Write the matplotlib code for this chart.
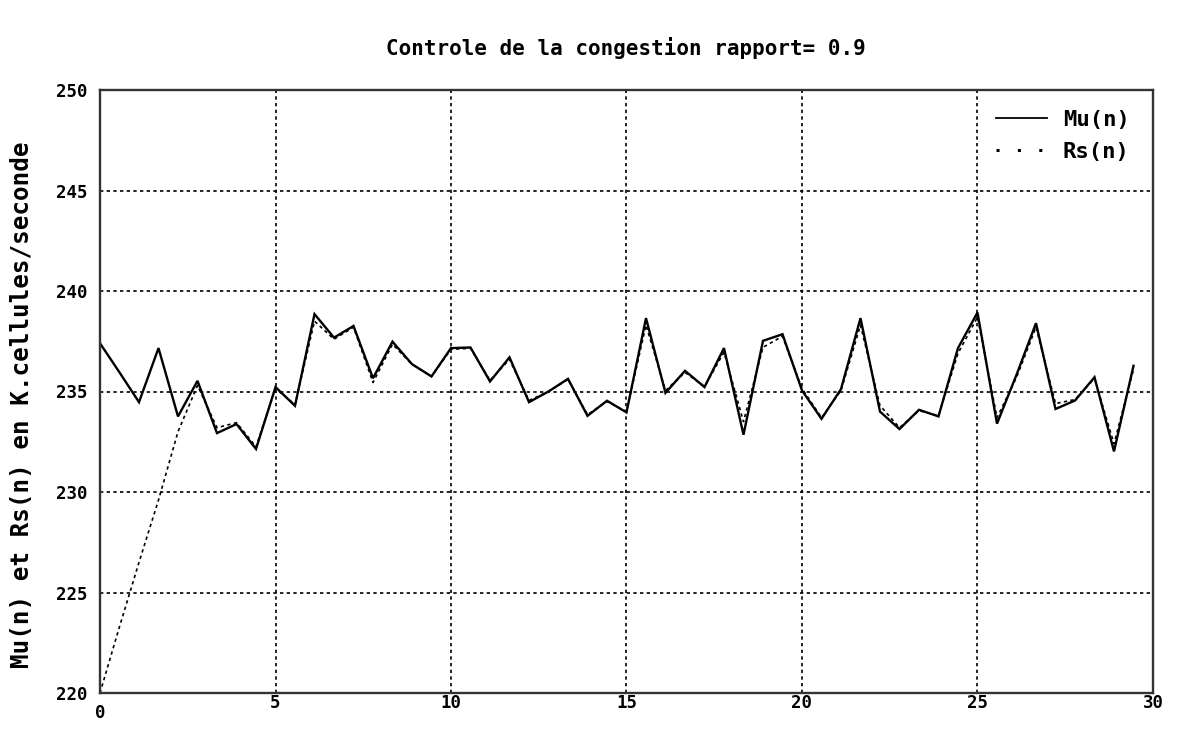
import numpy as np
import matplotlib
matplotlib.use("Agg")
import matplotlib.pyplot as plt
from matplotlib.lines import Line2D
import matplotlib.transforms as mtransforms

# Sampling step of the control loop (time units on the x axis)
step = 5 / 9

# Measured service rate Mu(n)
mu = [237.4, 235.95, 234.47, 237.16, 233.76, 235.53, 232.93, 233.38, 232.14, 235.22,
      234.29, 238.85, 237.68, 238.26, 235.66, 237.48, 236.36, 235.75, 237.16, 237.19,
      235.5, 236.7, 234.47, 235.0, 235.63, 233.79, 234.54, 233.96, 238.65, 234.93,
      236.03, 235.22, 237.16, 232.85, 237.52, 237.85, 235.05, 233.64, 235.12, 238.65,
      234.0, 233.13, 234.09, 233.76, 237.16, 238.93, 233.4, 235.83, 238.4, 234.13,
      234.55, 235.71, 232.02, 236.28]

# Controlled source rate Rs(n)
rs = [220.0, 223.3, 226.5, 229.6, 233.0, 235.3, 233.2, 233.45, 232.25, 235.15,
      234.35, 238.5, 237.6, 238.2, 235.45, 237.35, 236.35, 235.75, 237.1, 237.15,
      235.55, 236.6, 234.55, 235.0, 235.6, 233.85, 234.5, 234.0, 238.3, 235.05,
      235.95, 235.25, 236.95, 233.5, 237.2, 237.75, 235.15, 233.7, 235.05, 238.3,
      234.3, 233.2, 234.05, 233.8, 236.9, 238.7, 233.7, 235.7, 238.2, 234.4,
      234.6, 235.65, 232.4, 236.1]

x_ticks = [0, 5, 10, 15, 20, 25, 30]
y_ticks = [220, 225, 230, 235, 240, 245, 250]

title = "Controle de la congestion rapport= 0.9"
ylabel = "Mu(n) et Rs(n) en K.cellules/seconde"

FONT = "DejaVu Sans Mono"

n = np.arange(len(mu)) * step

fig = plt.figure(figsize=(11.83, 7.40), dpi=100)
ax = fig.add_axes([100 / 1183, 1 - 693 / 740, 1053 / 1183, 603 / 740])

ax.plot(n, mu, color="black", lw=1.7, solid_joinstyle="miter")
ax.plot(n, rs, color="black", lw=1.2, linestyle=(0, (2, 2)))

ax.set_xlim(0, 30)
ax.set_ylim(220, 250)
ax.set_xticks(x_ticks)
ax.set_yticks(y_ticks)
ax.set_xticklabels([str(v) for v in x_ticks])
ax.set_yticklabels([str(v) for v in y_ticks])
ax.tick_params(length=0, labelsize=12.5)
ax.tick_params(axis="x", pad=1)
ax.tick_params(axis="y", pad=9)
for lab in ax.get_xticklabels() + ax.get_yticklabels():
    lab.set_fontfamily(FONT)
    lab.set_fontweight("bold")
# the origin label sits a little lower than the rest
zero = ax.get_xticklabels()[0]
zero.set_transform(zero.get_transform() +
                   mtransforms.ScaledTranslation(0, -10 / 100, fig.dpi_scale_trans))

# only interior grid lines
for xv in x_ticks[1:-1]:
    ax.axvline(xv, color="black", lw=1.2, linestyle=(0, (2, 2)), zorder=0)
for yv in y_ticks[1:-1]:
    ax.axhline(yv, color="black", lw=1.2, linestyle=(0, (2, 2)), zorder=0)

for sp in ax.spines.values():
    sp.set_linewidth(1.7)
    sp.set_color("#333333")

fig.text(626 / 1183, 1 - 48 / 740, title, ha="center", va="center",
         fontfamily=FONT, fontweight="bold", fontsize=15)
fig.text(22 / 1183, 1 - 405 / 740, ylabel, ha="center", va="center", rotation=90,
         fontfamily=FONT, fontweight="bold", fontsize=17.5)

handles = [Line2D([], [], color="black", lw=1.3),
           Line2D([], [], color="black", lw=2.2, linestyle=(0, (1, 6)))]
leg = ax.legend(handles, ["Mu(n)", "Rs(n)"], loc="upper right", frameon=False,
                handlelength=2.3, handletextpad=0.7, labelspacing=0.55,
                bbox_to_anchor=(0.997, 1.0),
                prop={"family": FONT, "weight": "bold", "size": 16})

fig.savefig("out.png", dpi=100, facecolor="white")
